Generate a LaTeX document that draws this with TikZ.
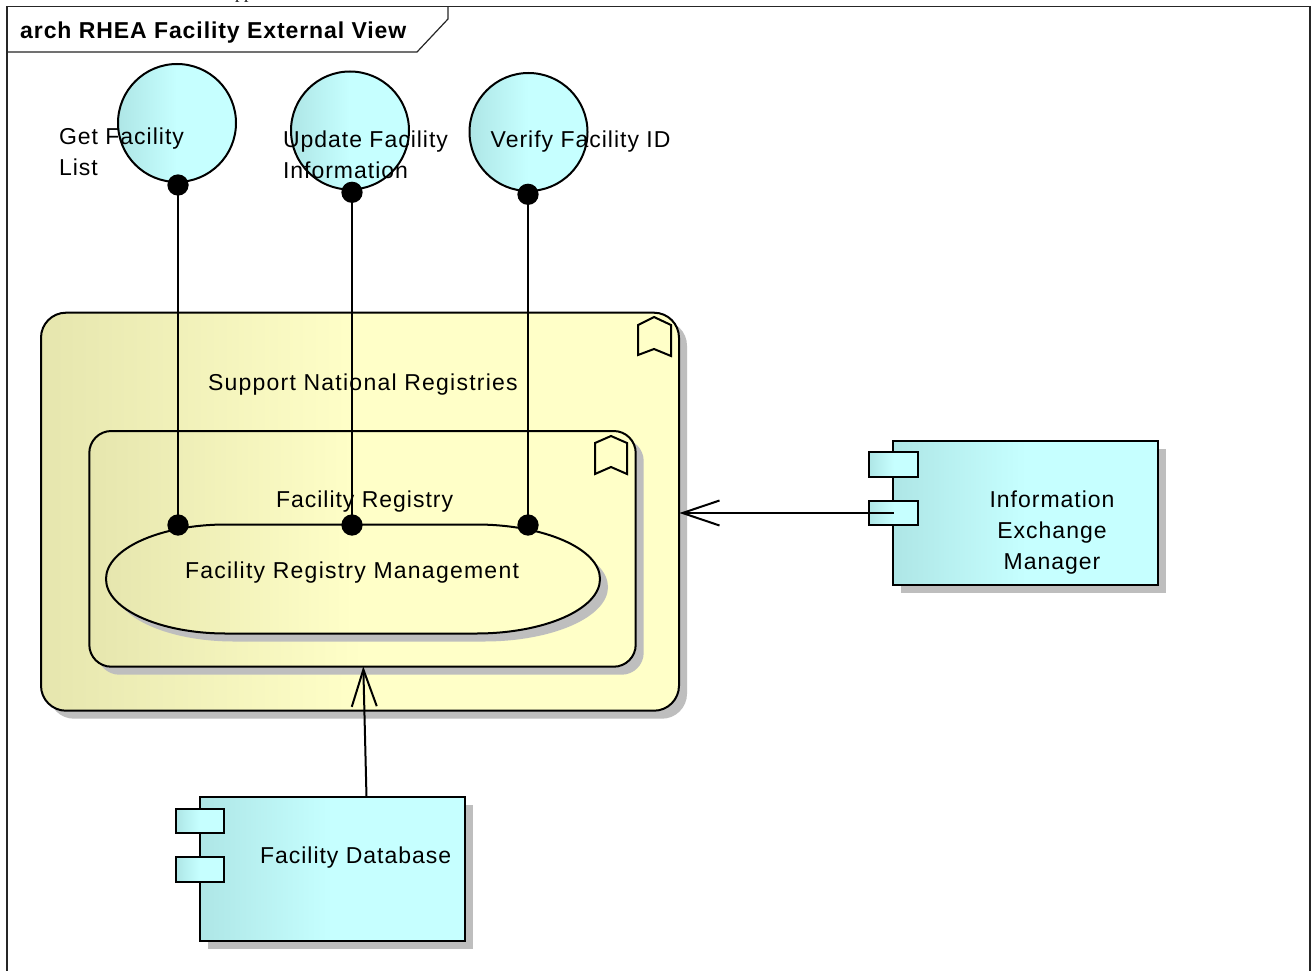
\documentclass[tikz,border=0pt]{standalone}
\usepackage{fontspec}
\setmainfont{Liberation Sans}
\newfontfamily\lab[LetterSpace=4.3]{Liberation Sans}
\newfontfamily\labw[LetterSpace=5.4]{Liberation Sans}
\newfontfamily\labb[LetterSpace=4,BoldFont={Liberation Sans Bold}]{Liberation Sans}
\newfontfamily\ser{Liberation Serif}
\usetikzlibrary{arrows.meta}
\definecolor{shadowgray}{HTML}{BEBEBE}
\definecolor{cyanL}{HTML}{AEE6E6}
\definecolor{cyanR}{HTML}{C6FFFF}
\definecolor{yelL}{HTML}{E6E6AE}
\definecolor{yelR}{HTML}{FFFFC8}
\pgfdeclarehorizontalshading{yelgrad}{100bp}{color(0bp)=(yelL); color(25bp)=(yelL); color(50bp)=(yelR); color(100bp)=(yelR)}
\pgfdeclarehorizontalshading{cyangrad}{100bp}{color(0bp)=(cyanL); color(25bp)=(cyanL); color(50bp)=(cyanR); color(100bp)=(cyanR)}
\tikzset{
  x=1pt,y=-1pt,
  ln/.style={line width=2pt,black},
  boxat/.style 2 args={minimum width=#1 pt,minimum height=#2 pt,inner sep=0pt,outer sep=0pt,rectangle},
  yelbox/.style={draw,ln,shade,shading=yelgrad},
  cybox/.style={draw,ln,shade,shading=cyangrad},
  shad/.style={fill=shadowgray,draw=none},
  iface/.style={circle,minimum size=118pt,inner sep=0pt,outer sep=0pt,draw,ln,shade,shading=cyangrad},
  portdot/.style={circle,fill=black,minimum size=21.3pt,inner sep=0pt,outer sep=0pt},
  txt/.style={anchor=base west,inner sep=0pt,outer sep=0pt,font=\lab\fontsize{23}{26}\selectfont,text=black},
  txtw/.style={txt,font=\labw\fontsize{23}{26}\selectfont},
  conn/.style={ln},
  dep/.style={ln,-{Straight Barb[length=37pt,width=25pt,line width=2pt]}},
}
\begin{document}
\begin{tikzpicture}
\useasboundingbox (0,0) rectangle (1311,971);
\fill[white] (0,0) rectangle (1311,971);

% clipped text at the top edge
\node[anchor=base,inner sep=0pt,font=\ser\fontsize{18}{20}\selectfont] (ppt) at (244,-1) {pp};

% frame
\draw[line width=1.8pt,black!85] (7,972) -- (7,6.5) -- (1310,6.5) -- (1310,972);
\draw[line width=1.2pt,black!85] (7,52) -- (417,52) -- (448,19) -- (448,6.5);
\node[anchor=base west,inner sep=0pt,font=\labb\bfseries\fontsize{23}{26}\selectfont] (title) at (20,38.5) {arch RHEA Facility External View};

% outer boundary
\node[boxat={638}{398},shad,rounded corners=25pt] (outers) at (368,519.7) {};
\node[boxat={638}{398},yelbox,rounded corners=25pt] (outer) at (360,511.7) {};
\draw[ln] (638,355) -- (638,325) -- (654,317) -- (671,325) -- (671,356) -- (654,349) -- cycle;
\node[txtw] (outert) at (208,390.7) {Support National Registries};

% inner boundary
\node[boxat={546.4}{235.7},shad,rounded corners=22pt] (inners) at (370.5,556.85) {};
\node[boxat={546.4}{235.7},yelbox,rounded corners=22pt] (inner) at (362.5,548.85) {};
\draw[ln] (595,474) -- (595,443) -- (611,436) -- (627,443) -- (627,474) -- (611,467) -- cycle;
\node[txt] (innert) at (276,507) {Facility Registry};

% use case
\fill[shadowgray] (234,532.5) -- (484,532.5) .. controls (552.5,532.5) and (608,556.9) .. (608,587)
  .. controls (608,617.1) and (552.5,641.5) .. (484,641.5) -- (234,641.5)
  .. controls (167.7,641.5) and (114,617.1) .. (114,587) .. controls (114,556.9) and (167.7,532.5) .. (234,532.5) -- cycle;
\path[ln,draw,shade,shading=yelgrad] (226,524.5) -- (476,524.5) .. controls (544.5,524.5) and (600,548.9) .. (600,579)
  .. controls (600,609.1) and (544.5,633.5) .. (476,633.5) -- (226,633.5)
  .. controls (159.7,633.5) and (106,609.1) .. (106,579) .. controls (106,548.9) and (159.7,524.5) .. (226,524.5) -- cycle;
\node[txtw] (uct) at (185,578) {Facility Registry Management};

% interfaces
\node[iface] (if1) at (177,123) {};
\node[iface] (if2) at (350,130.5) {};
\node[iface] (if3) at (528.5,132) {};
\node[portdot] (d1a) at (178,185) {};
\node[portdot] (d2a) at (352,192.3) {};
\node[portdot] (d3a) at (528,194.3) {};
\node[portdot] (d1b) at (178,525) {};
\node[portdot] (d2b) at (352,525) {};
\node[portdot] (d3b) at (528,525) {};
\draw[conn] (d1a.center) -- (d1b.center);
\draw[conn] (d2a.center) -- (d2b.center);
\draw[conn] (d3a.center) -- (d3b.center);
\node[txt] (l1a) at (59,144) {Get Facility};
\node[txt] (l1b) at (59,175.7) {List};
\node[txt] (l2a) at (283,147) {Update Facility};
\node[txt] (l2b) at (283,178.7) {Information};
\node[txt] (l3) at (490.7,147) {Verify Facility ID};

% Information Exchange Manager
\node[boxat={265}{144},shad] (iems) at (1033.8,520.7) {};
\node[boxat={265}{144},cybox] (iem) at (1025.8,512.7) {};
\node[boxat={49}{24.4},cybox] (iemp1) at (893.5,464.5) {};
\node[boxat={49}{24.4},cybox] (iemp2) at (893.5,513) {};
\node[txt,anchor=base] (iemt1) at (1052,507.3) {Information};
\node[txt,anchor=base] (iemt2) at (1052,538) {Exchange};
\node[txt,anchor=base] (iemt3) at (1052,569) {Manager};
\coordinate (iemtip) at ([xshift=0.4pt]iemp2.center -| outer.east);
\draw[dep] (iemp2.center) -- (iemtip);

% Facility Database
\node[boxat={265}{144},shad] (dbs) at (340.5,877.3) {};
\node[boxat={265}{144},cybox] (db) at (332.5,869.3) {};
\node[boxat={48.6}{24.4},cybox] (dbp1) at (200,821.2) {};
\node[boxat={48.6}{24.4},cybox] (dbp2) at (200,869.5) {};
\node[txt] (dbt) at (260,863) {Facility Database};
\coordinate (dbout) at ([xshift=34pt]db.north);
\coordinate (dbtip) at ([xshift=0.8pt,yshift=0.3pt]inner.south);
\draw[dep] (dbout) -- (dbtip);
\end{tikzpicture}
\end{document}
